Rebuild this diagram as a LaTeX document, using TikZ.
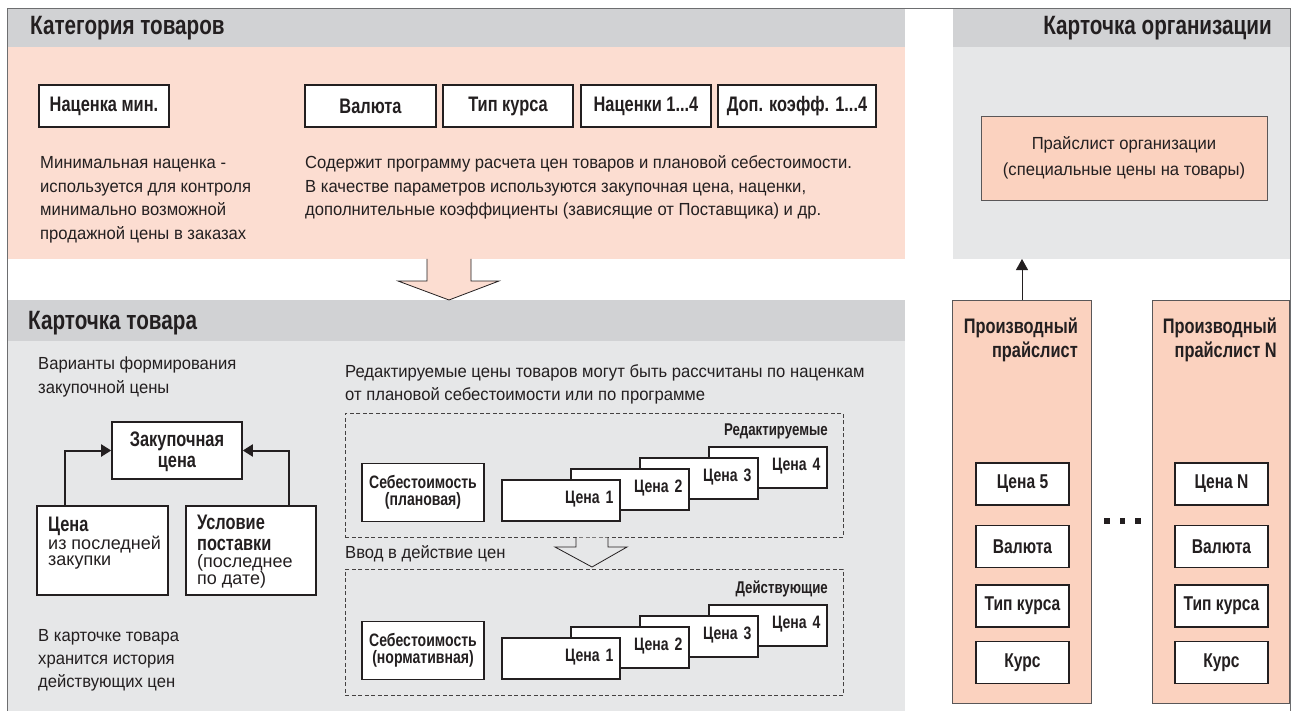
\documentclass[tikz,border=0pt]{standalone}
\usepackage{fontspec}
\setmainfont{Liberation Sans}
\newfontfamily\bodyf[FakeStretch=0.95]{Liberation Sans}
\newfontfamily\condf[FakeStretch=0.78]{Liberation Sans}
\usetikzlibrary{calc,arrows.meta}
\definecolor{hdr}{HTML}{D1D2D4}
\definecolor{bodyg}{HTML}{E6E7E8}
\definecolor{pinkp}{HTML}{FCDDD1}
\definecolor{pinkb}{HTML}{FBD2BF}
\definecolor{ink}{HTML}{231F20}
\definecolor{framec}{HTML}{6D6E70}
\tikzset{
  wbox/.style={draw=ink, line width=1.6pt, fill=white, inner sep=0pt, text=ink,
    font=\condf\bfseries\fontsize{21}{18}\selectfont},
  pbox/.style={draw=ink!75, line width=0.8pt, fill=pinkb, inner sep=0pt},
  txt/.style={inner sep=0pt, text=ink, font=\bodyf\fontsize{17.5}{23}\selectfont},
  itxt/.style={inner sep=0pt, text=ink, font=\fontsize{18}{16}\selectfont},
  hd/.style={inner sep=0pt, text=ink, font=\condf\bfseries\fontsize{26.5}{30}\selectfont},
  lbl/.style={inner sep=0pt, text=ink, font=\condf\bfseries\fontsize{21}{22}\selectfont},
  slbl/.style={inner sep=0pt, text=ink, font=\condf\bfseries\fontsize{17}{20}\selectfont},
  dashbox/.style={draw=ink!85, line width=0.7pt, dash pattern=on 4pt off 2.5pt, inner sep=0pt},
  price/.style={wbox, font=\condf\bfseries\fontsize{18}{18}\selectfont,
    minimum width=118pt, minimum height=41pt, text width=105pt,
    align=right, text height=14pt, text depth=9pt},
  seb/.style={wbox, font=\condf\bfseries\fontsize{18}{17}\selectfont,
    minimum width=122pt, minimum height=58pt, align=center},
  small/.style={wbox, font=\condf\bfseries\fontsize{20}{20}\selectfont, minimum width=93pt, minimum height=42pt},
  conn/.style={draw=ink, line width=2pt, -{Triangle[length=10pt,width=12pt]}},
  thinarr/.style={draw=ink, line width=0.9pt, -{Triangle[length=11pt,width=12pt]}},
}
\begin{document}
\begin{tikzpicture}[x=1pt,y=-1pt]
\useasboundingbox (0,0) rectangle (1292,711);
% panels
\fill[pinkp] (7,47) rectangle (905,259);
\fill[hdr] (7,8) rectangle (905,47);
\fill[bodyg] (953,47) rectangle (1290,259);
\fill[hdr] (953,8) rectangle (1290,47);
\fill[hdr] (7,300) rectangle (905,341);
\fill[bodyg] (7,341) rectangle (905,711);
\draw[framec, line width=0.8pt] (7,711) -- (7,8) -- (1290,8) -- (1290,711);
% big arrow
\fill[pinkp] (427,258) -- (427,281) -- (398,281) -- (449,300) -- (499,281) -- (471,281) -- (471,258) -- cycle;
\draw[ink, line width=0.8pt] (427,259) -- (427,281) -- (398,281) -- (449,300) -- (499,281) -- (471,281) -- (471,259);
% headers
\node[hd, anchor=base west] (hcat) at (30,35) {Категория товаров};
\node[hd, anchor=base east] (horg) at (1272,35) {Карточка организации};
\node[hd, anchor=base west] (htov) at (28,329) {Карточка товара};
% top boxes
\node[wbox, minimum width=130pt, minimum height=42pt] (nmin) at (104,106) {Наценка мин.};
\node[wbox, minimum width=131pt, minimum height=42pt] (val) at (370.5,106) {Валюта};
\node[wbox, minimum width=130pt, minimum height=42pt] (tip) at (508,106) {Тип курса};
\node[wbox, minimum width=130pt, minimum height=42pt] (nac) at (646,106) {Наценки 1...4};
\node[wbox, minimum width=158pt, minimum height=42pt] (dop) at (797,106) {Доп. коэфф. 1...4};
% top texts
\node[txt, anchor=base west] (m1) at (40,169) {Минимальная наценка -};
\node[txt, anchor=base west] (m2) at (40,192.5) {используется для контроля};
\node[txt, anchor=base west] (m3) at (40,216) {минимально возможной};
\node[txt, anchor=base west] (m4) at (40,239.3) {продажной цены в заказах};
\node[txt, anchor=base west] (s1) at (305,169) {Содержит программу расчета цен товаров и плановой себестоимости.};
\node[txt, anchor=base west] (s2) at (305,192.5) {В качестве параметров используются закупочная цена, наценки,};
\node[txt, anchor=base west] (s3) at (305,216) {дополнительные коэффициенты (зависящие от Поставщика) и др.};
% organisation card
\node[pbox, minimum width=286pt, minimum height=84pt, align=center,
  font=\bodyf\fontsize{17.5}{26}\selectfont, text=ink] (plorg) at (1124,158)
  {Прайслист организации\\(специальные цены на товары)};
% derived price lists
\node[pbox, minimum width=139pt, minimum height=403pt, anchor=north west] (prod1) at (952,300) {};
\node[pbox, minimum width=137pt, minimum height=403pt, anchor=north west] (prodN) at (1152,300) {};
\coordinate (orgb) at (1022,259);
\draw[thinarr] (prod1.north -| orgb) -- (orgb);
\node[lbl, anchor=base east] (p1a) at (1078,333) {Производный};
\node[lbl, anchor=base east] (p1b) at (1078,357) {прайслист};
\node[lbl, anchor=base east] (pNa) at (1277,333) {Производный};
\node[lbl, anchor=base east] (pNb) at (1277,357) {прайслист N};
\node[small] (a5) at (1022.5,484) {Цена 5};
\node[small] (a6) at (1022.5,546.5) {Валюта};
\node[small] (a7) at (1022.5,606) {Тип курса};
\node[small] (a8) at (1022.5,662.5) {Курс};
\node[small] (b5) at (1221.5,484) {Цена N};
\node[small] (b6) at (1221.5,546.5) {Валюта};
\node[small] (b7) at (1221.5,606) {Тип курса};
\node[small] (b8) at (1221.5,662.5) {Курс};
\fill[ink] (1104.2,518.2) rectangle ++(5.5,5.5);
\fill[ink] (1119.7,518.2) rectangle ++(5.5,5.5);
\fill[ink] (1135.2,518.2) rectangle ++(5.5,5.5);
% product card left
\node[txt, anchor=base west] (v1) at (38,369) {Варианты формирования};
\node[txt, anchor=base west] (v2) at (38,393) {закупочной цены};
\node[wbox, minimum width=130pt, minimum height=57pt] (zak) at (177,450.5) {};
\node[lbl, anchor=base] (zk1) at (177,446) {Закупочная};
\node[lbl, anchor=base] (zk2) at (177,467) {цена};
\node[wbox, minimum width=131pt, minimum height=89pt] (cena) at (102.5,550.5) {};
\node[wbox, minimum width=130pt, minimum height=89pt] (usl) at (251,550.5) {};
\node[lbl, anchor=base west] (ce1) at (48,531) {Цена};
\node[itxt, anchor=base west] (ce2) at (48,549) {из последней};
\node[itxt, anchor=base west] (ce3) at (48,565) {закупки};
\node[lbl, anchor=base west] (us1) at (197,529) {Условие};
\node[lbl, anchor=base west] (us2) at (197,550) {поставки};
\node[itxt, anchor=base west] (us3) at (197,567) {(последнее};
\node[itxt, anchor=base west] (us4) at (197,584) {по дате)};
\coordinate (k1) at (65,506);
\coordinate (k2) at (289,506);
\draw[conn] (k1) |- (zak.west);
\draw[conn] (k2) |- (zak.east);
\node[txt, anchor=base west] (h1) at (38,641) {В карточке товара};
\node[txt, anchor=base west] (h2) at (38,664) {хранится история};
\node[txt, anchor=base west] (h3) at (38,687) {действующих цен};
% product card right
\node[txt, anchor=base west] (r1) at (345,377) {Редактируемые цены товаров могут быть рассчитаны по наценкам};
\node[txt, anchor=base west] (r2) at (345,400.7) {от плановой себестоимости или по программе};
\node[dashbox, minimum width=498pt, minimum height=124pt, anchor=north west] (dz1) at (345,413) {};
\node[dashbox, minimum width=498pt, minimum height=126pt, anchor=north west] (dz2) at (345,569) {};
\node[slbl, anchor=base east] (ed) at (828,435) {Редактируемые};
\node[slbl, anchor=base east] (act) at (828,593) {Действующие};
\node[seb] (seb1) at (423,492.5) {Себестоимость\\(плановая)};
\node[price] (e4) at (768,467.5) {Цена 4};
\node[price] (e3) at (699,478.5) {Цена 3};
\node[price] (e2) at (630,489.5) {Цена 2};
\node[price] (e1) at (561,500.5) {Цена 1};
\node[seb] (seb2) at (423,650.5) {Себестоимость\\(нормативная)};
\node[price] (f4) at (768,625.5) {Цена 4};
\node[price] (f3) at (699,636.5) {Цена 3};
\node[price] (f2) at (630,647.5) {Цена 2};
\node[price] (f1) at (561,658.5) {Цена 1};
% small open arrow
\fill[bodyg] (576,537.5) -- (576,547) -- (555,547) -- (592,567) -- (627,547) -- (608,547) -- (608,537.5) -- cycle;
\draw[ink, line width=0.8pt] (576,537) -- (576,547) -- (555,547) -- (592,567) -- (627,547) -- (608,547) -- (608,537);
\node[txt, anchor=base west] (vv) at (345,558) {Ввод в действие цен};
\end{tikzpicture}
\end{document}
